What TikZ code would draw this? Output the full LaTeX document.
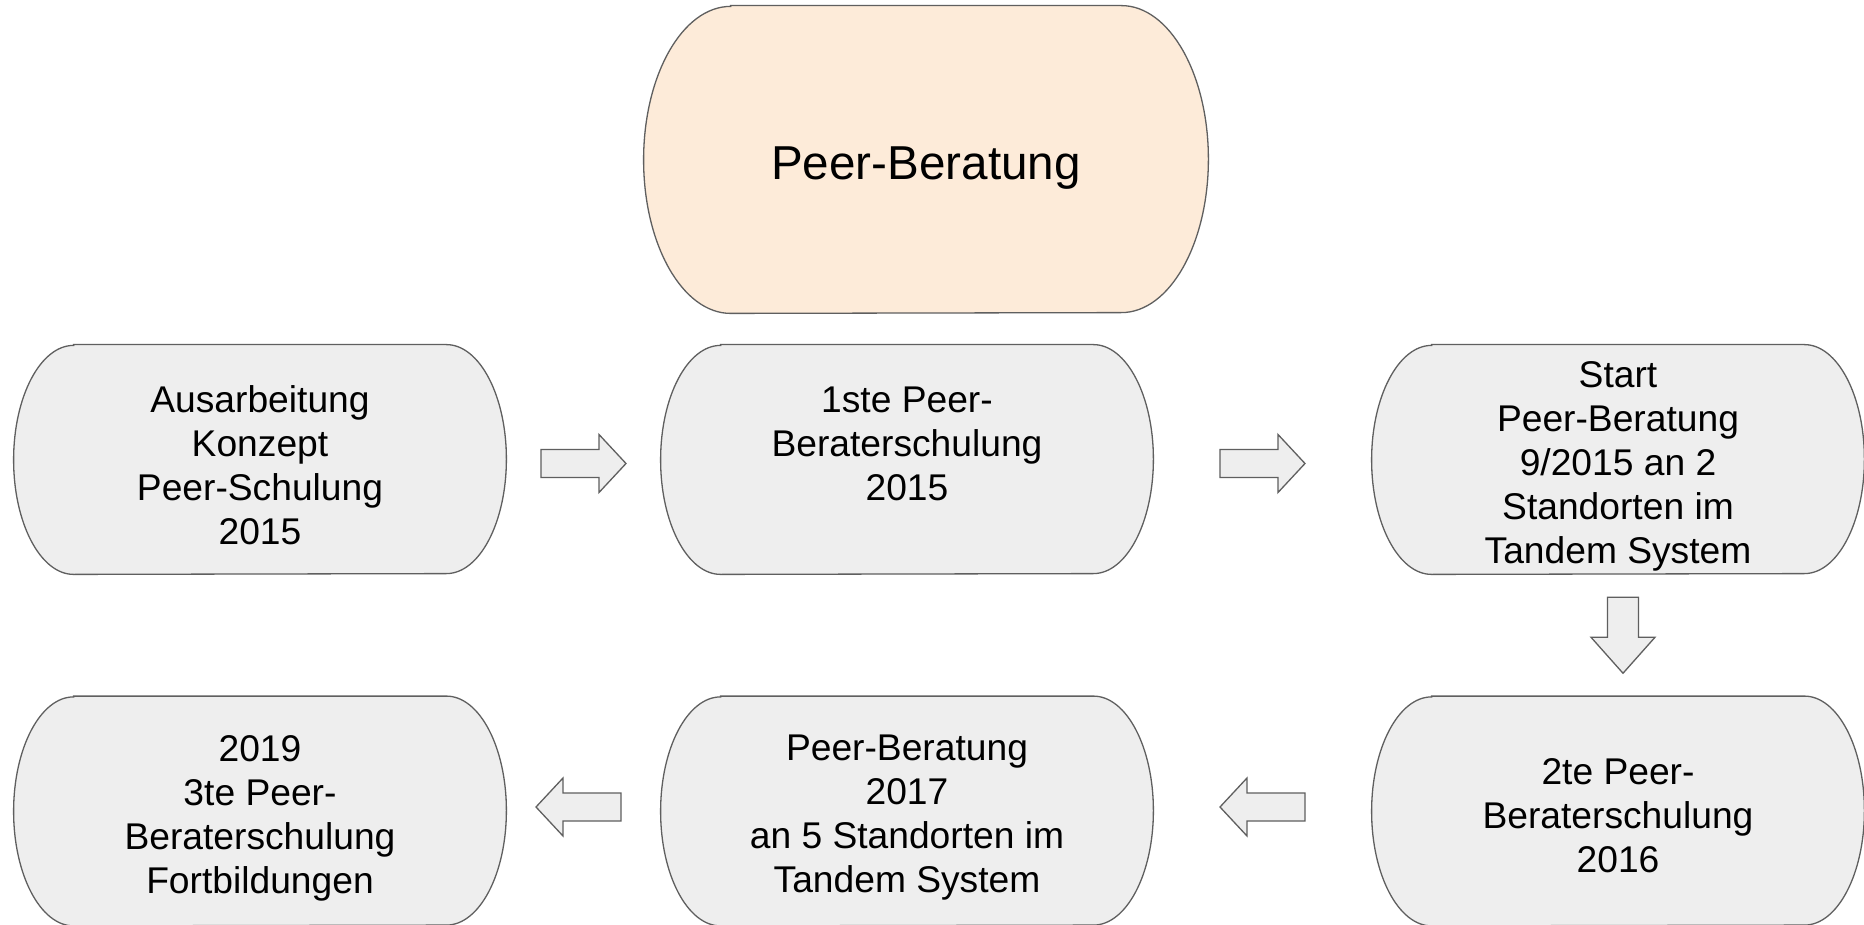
\documentclass[tikz,border=0pt]{standalone}
\usepackage{fontspec}
\setmainfont{Liberation Sans}
\usetikzlibrary{calc,backgrounds}
\definecolor{boxfill}{HTML}{EEEEEE}
\definecolor{titlefill}{HTML}{FDEBD9}
\definecolor{edgecol}{HTML}{5F5F5F}
% #1 node, #2 x radius, #3 y radius, #4 fill, #5 upward offset of the outline
\newcommand\capsule[5]{%
  \path[capline,fill=#4] ($(#1.north west)+(#2,#5)$) -- ($(#1.north east)+(-#2,#5)$)
     arc[start angle=90,end angle=-90,x radius=#2,y radius=#3]
     -- ($(#1.south west)+(#2,#5)$)
     arc[start angle=270,end angle=90,x radius=#2,y radius=#3] -- cycle;}
\tikzset{
  capline/.style={draw=edgecol, line width=0.65pt},
  rowbox/.style={minimum width=246pt, minimum height=114.5pt, inner sep=0pt, align=center,
    font=\fontsize{18.6}{22}\selectfont},
  titlebox/.style={minimum width=282pt, minimum height=153.5pt, inner sep=0pt, align=center,
    font=\fontsize{23.8}{28}\selectfont},
  blockarrow/.style={draw=edgecol, fill=boxfill, line width=0.65pt, line join=miter},
  harrow/.pic={\path[blockarrow] (-42.5,-14) -- (15.5,-14) -- (15.5,-29) -- (42.5,0)
      -- (15.5,29) -- (15.5,14) -- (-42.5,14) -- cycle;},
  varrow/.pic={\path[blockarrow] (-38,-15.5) -- (2,-15.5) -- (2,-32) -- (38,0)
      -- (2,32) -- (2,15.5) -- (-38,15.5) -- cycle;},
}
\begin{document}
\begin{tikzpicture}[x=0.5pt,y=-0.5pt]
\useasboundingbox (0,0) rectangle (1864,925);
\node[titlebox] (T) at (926,168.5) {Peer-Beratung};
\node[rowbox] (A) at (260,465.5) {Ausarbeitung\\Konzept\\Peer-Schulung\\2015};
\node[rowbox] (B) at (907,465.5) {1ste Peer-\\Beraterschulung\\2015\\\mbox{}};
\node[rowbox] (C) at (1618,466.5) {Start\\Peer-Beratung\\9/2015 an 2\\Standorten im\\Tandem System};
\node[rowbox] (D) at (260,818) {2019\\3te Peer-\\Beraterschulung\\Fortbildungen};
\node[rowbox] (E) at (907,818) {Peer-Beratung\\2017\\an 5 Standorten im\\Tandem System};
\node[rowbox] (F) at (1618,816) {2te Peer-\\Beraterschulung\\2016};
\begin{pgfonlayer}{background}
  \fill[white] (0,0) rectangle (1864,925);
  \capsule{T}{43.5pt}{76.75pt}{titlefill}{4.5pt}
  \capsule{A}{30pt}{57.25pt}{boxfill}{3pt}
  \capsule{B}{30pt}{57.25pt}{boxfill}{3pt}
  \capsule{C}{30pt}{57.25pt}{boxfill}{3.5pt}
  \capsule{D}{30pt}{57.25pt}{boxfill}{3.5pt}
  \capsule{E}{30pt}{57.25pt}{boxfill}{3.5pt}
  \capsule{F}{30pt}{57.25pt}{boxfill}{2.5pt}
\end{pgfonlayer}
\pic at ($(A.east)!0.5!(B.west)+(0,-2)$) {harrow};
\pic at ($(B.east)!0.5!(C.west)+(0,-2.5)$) {harrow};
\pic[rotate=-90] at ($(C.south)!0.5!(F.north)+(5,-6)$) {varrow};
\pic[rotate=180] at ($(F.west)!0.5!(E.east)+(0,-10)$) {harrow};
\pic[rotate=180] at ($(E.west)!0.5!(D.east)+(-5,-11)$) {harrow};
\end{tikzpicture}
\end{document}
